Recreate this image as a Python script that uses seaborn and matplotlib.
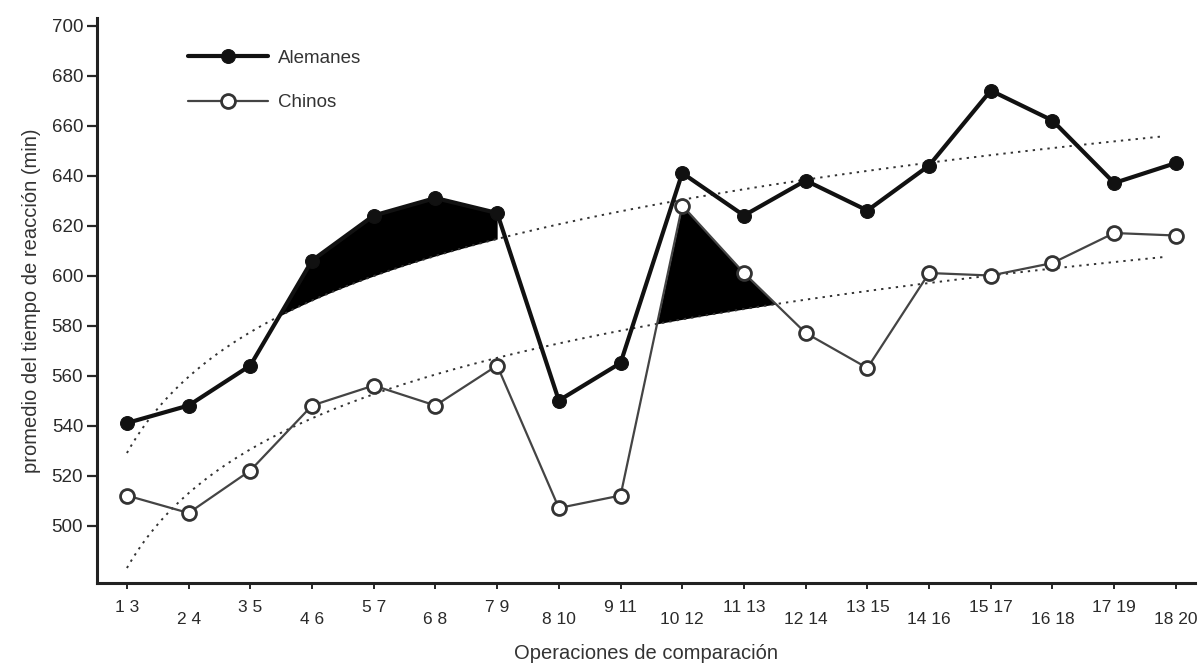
import numpy as np
import matplotlib.pyplot as plt
import seaborn as sns
from matplotlib.transforms import ScaledTranslation

# categorías del eje x (operaciones de comparación)
categorias = list(range(1, 19))
etiquetas = ["1 3", "2 4", "3 5", "4 6", "5 7", "6 8", "7 9", "8 10", "9 11",
             "10 12", "11 13", "12 14", "13 15", "14 16", "15 17", "16 18",
             "17 19", "18 20"]

# promedio del tiempo de reacción (min)
alemanes = [541, 548, 564, 606, 624, 631, 625, 550, 565,
            641, 624, 638, 626, 644, 674, 662, 637, 645]
chinos = [512, 505, 522, 548, 556, 548, 564, 507, 512,
          628, 601, 577, 563, 601, 600, 605, 617, 616]

# curvas de tendencia logarítmica a + b*ln(x)
tend_alemanes = [529, 44.0]
tend_chinos = [483, 43.2]

sns.set_style('ticks')
plt.rcParams['font.family'] = ['Liberation Sans', 'DejaVu Sans']

fig = plt.figure(figsize=(12.02, 6.65), dpi=100)
ax = fig.add_axes([0.0807, 0.1233, 0.9135, 0.8496])


def tendencia(coef, x):
    return coef[0] + coef[1] * np.log(x)


def sombrear(x0, x1, serie, coef):
    xx = np.linspace(x0, x1, 500)
    linea = np.interp(xx, categorias, serie)
    t = tendencia(coef, xx)
    ax.fill_between(xx, linea, t, where=linea > t, interpolate=True,
                    color='black', lw=0, zorder=2)


# zonas sombreadas entre la serie y su tendencia
sombrear(3, 7, alemanes, tend_alemanes)
sombrear(9, 12, chinos, tend_chinos)

# líneas de tendencia punteadas
xs = np.linspace(1, 17.8, 300)
ax.plot(xs, tendencia(tend_alemanes, xs), ls=(0, (1.2, 2.6)), color='#333', lw=1.4, zorder=3)
ax.plot(xs, tendencia(tend_chinos, xs), ls=(0, (1.2, 2.6)), color='#333', lw=1.4, zorder=3)

sns.lineplot(x=categorias, y=alemanes, ax=ax, color='#111', lw=3, marker='o',
             markersize=10, markeredgecolor='#111', label='Alemanes', zorder=5)
sns.lineplot(x=categorias, y=chinos, ax=ax, color='#444', lw=1.6, marker='o',
             markersize=10, markerfacecolor='white', markeredgecolor='#333',
             markeredgewidth=2, label='Chinos', zorder=4)

ax.set_xlim(0.515, 18.31)
ax.set_ylim(477, 703)
ax.set_yticks(range(500, 701, 20))
ax.set_xticks(categorias)
ax.set_xticklabels(etiquetas)

sns.despine(ax=ax)
for lado in ['left', 'bottom']:
    ax.spines[lado].set_linewidth(2.2)
    ax.spines[lado].set_color('#222')
ax.tick_params(axis='y', length=7, width=1.6, labelsize=13.5, labelcolor='#2a2a2a', pad=3)
ax.tick_params(axis='x', length=4, width=1.4, labelsize=12.5, labelcolor='#2a2a2a', pad=8)

# etiquetas del eje x escalonadas
for i, lbl in enumerate(ax.get_xticklabels()):
    if i % 2 == 1:
        lbl.set_transform(lbl.get_transform() + ScaledTranslation(0, -9 / 72, fig.dpi_scale_trans))

ax.set_xlabel('Operaciones de comparación', fontsize=14.5, color='#333', labelpad=12)
ax.set_ylabel('promedio del tiempo de reacción (min)', fontsize=14.5, color='#333', labelpad=8)

ax.legend(loc='upper left', bbox_to_anchor=(0.156, 0.925), bbox_transform=fig.transFigure,
          frameon=False, fontsize=13.5, handlelength=4.3, handletextpad=0.5,
          labelspacing=1.45, borderpad=0, borderaxespad=0, labelcolor='#333')

fig.savefig('out.png', dpi=100, facecolor='white')
